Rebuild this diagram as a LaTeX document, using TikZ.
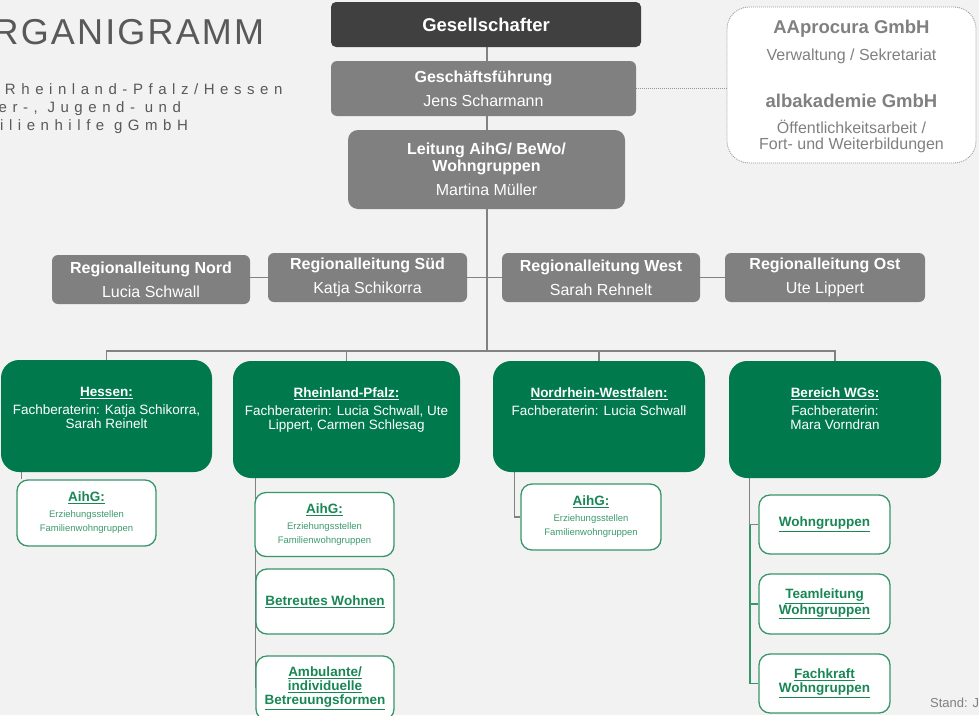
\documentclass[tikz,border=0pt]{standalone}
\usepackage{fontspec}
\setmainfont{Liberation Sans}
\usetikzlibrary{backgrounds}
\definecolor{bgcol}{RGB}{242,242,242}
\definecolor{darkbox}{RGB}{64,64,64}
\definecolor{midgray}{RGB}{128,128,128}
\definecolor{titlegray}{RGB}{89,89,89}
\definecolor{dotgray}{RGB}{150,150,150}
\definecolor{orgGreen}{RGB}{0,122,77}
\definecolor{subGreen}{RGB}{55,150,105}
\definecolor{subText}{RGB}{25,135,85}
\definecolor{subLight}{RGB}{60,155,110}
\definecolor{lineGray}{RGB}{130,130,130}
\newcommand\fs[2]{\fontsize{#1}{#2}\selectfont}
\newcommand\bolduline[1]{\textbf{\underline{#1}}}
\newcommand\smalltxt[1]{{\fontsize{9.5}{14}\selectfont\color{subLight}#1}}
\tikzset{
  lbl/.style={inner sep=0pt, align=center},
  darkstyle/.style={fill=darkbox, rounded corners=5pt, text=white, inner sep=0pt, align=center},
  graystyle/.style={fill=midgray, rounded corners=6pt, text=white, inner sep=0pt, align=center},
  greenstyle/.style={fill=orgGreen, rounded corners=18pt, inner sep=0pt},
  gtext/.style={lbl, anchor=north, text=white, font=\fs{13.5}{14}},
  substyle/.style={fill=white, draw=subGreen, line width=1.3pt, rounded corners=11pt, inner sep=0pt, align=center, text=subText, font=\fs{13.5}{14}},
  conn/.style={draw=lineGray, line width=1.2pt},
  gconn/.style={draw=subGreen, line width=1.3pt},
  dotconn/.style={draw=dotgray, line width=1pt, dash pattern=on 1pt off 1pt}
}
\begin{document}
\begin{tikzpicture}[x=1pt,y=-1pt]
\useasboundingbox (0,0) rectangle (979,715);
% title
\node[lbl, anchor=base west, text=titlegray, font=\fs{36}{36}\addfontfeature{LetterSpace=6}] (title) at (-7.5,44) {RGANIGRAMM};
\node[lbl, anchor=base west, text=titlegray, font=\fs{15}{18}\addfontfeature{LetterSpace=37}] (sub1) at (4.8,94.3) {Rheinland-Pfalz/Hessen};
\node[lbl, anchor=base west, text=titlegray, font=\fs{15}{18}\addfontfeature{LetterSpace=37}] (sub2) at (-1.5,112.5) {er-, Jugend- und};
\node[lbl, anchor=base west, text=titlegray, font=\fs{15}{18}\addfontfeature{LetterSpace=37}] (sub3) at (0,130) {ilienhilfe gGmbH};
% top boxes
\node[darkstyle, minimum width=310pt, minimum height=45pt, font=\fs{18.5}{20}\bfseries] (ges) at (486,24.5) {Gesellschafter};
\node[graystyle, minimum width=305pt, minimum height=55pt, font=\fs{16}{24}] (gf) at (483.5,88.5) {\textbf{Geschäftsführung}\\Jens Scharmann};
\node[graystyle, rounded corners=10pt, minimum width=277pt, minimum height=79pt, font=\fs{16}{17}] (leit) at (486.5,169.5) {\textbf{Leitung AihG/ BeWo/}\\\textbf{Wohngruppen}\\[7pt]Martina Müller};
% AAprocura
\node[fill=white, draw=dotgray, dash pattern=on 1pt off 1pt, line width=0.8pt, rounded corners=22pt, minimum width=249pt, minimum height=156pt, inner sep=0pt] (aap) at (851.5,85) {};
\node[lbl, anchor=north, text=midgray, font=\fs{16}{16}] (aaptxt) at (851.5,20) {{\fontsize{18.5}{16}\selectfont\bfseries AAprocura GmbH}\\[11pt]Verwaltung / Sekretariat\\[29pt]{\fontsize{18.5}{16}\selectfont\bfseries albakademie GmbH}\\[10pt]Öffentlichkeitsarbeit /\\Fort- und Weiterbildungen};
% regional
\node[graystyle, minimum width=198pt, minimum height=49pt, font=\fs{16}{24}] (nord) at (151,279.5) {\textbf{Regionalleitung Nord}\\Lucia Schwall};
\node[graystyle, minimum width=199pt, minimum height=49pt, font=\fs{16}{24}] (sued) at (367.5,277.5) {\textbf{Regionalleitung Süd}\\Katja Schikorra};
\node[graystyle, minimum width=198pt, minimum height=49pt, font=\fs{16}{24}] (west) at (601,277.5) {\textbf{Regionalleitung West}\\Sarah Rehnelt};
\node[graystyle, minimum width=200pt, minimum height=49pt, font=\fs{16}{24}] (ost) at (825,277.5) {\textbf{Regionalleitung Ost}\\Ute Lippert};
% green boxes
\node[greenstyle, minimum width=211pt, minimum height=112pt] (hes) at (106.5,416) {};
\node[gtext] (hestxt) at (106.5,387.5) {\bolduline{Hessen:}\\[4pt]Fachberaterin: Katja Schikorra,\\Sarah Reinelt};
\node[greenstyle, minimum width=227pt, minimum height=117pt] (rlp) at (346.5,419.5) {};
\node[gtext] (rlptxt) at (346.5,387.5) {\bolduline{Rheinland-Pfalz:}\\[4pt]Fachberaterin: Lucia Schwall, Ute\\Lippert, Carmen Schlesag};
\node[greenstyle, minimum width=212pt, minimum height=111pt] (nrw) at (599,416.5) {};
\node[gtext] (nrwtxt) at (599,387.5) {\bolduline{Nordrhein-Westfalen:}\\[4pt]Fachberaterin: Lucia Schwall};
\node[greenstyle, minimum width=212pt, minimum height=117pt] (wgs) at (835,419.5) {};
\node[gtext] (wgstxt) at (835,387.5) {\bolduline{Bereich WGs:}\\[4pt]Fachberaterin:\\Mara Vorndran};
% sub boxes
\node[substyle, minimum width=139pt, minimum height=66pt] (hesA) at (86.5,513) {\bolduline{AihG:}\\[2pt]\smalltxt{Erziehungsstellen}\\\smalltxt{Familienwohngruppen}};
\node[substyle, minimum width=139pt, minimum height=64pt] (rlpA) at (324.5,524.5) {\bolduline{AihG:}\\[2pt]\smalltxt{Erziehungsstellen}\\\smalltxt{Familienwohngruppen}};
\node[substyle, minimum width=138pt, minimum height=65pt] (rlpB) at (325,601.5) {\bolduline{Betreutes Wohnen}};
\node[substyle, minimum width=138pt, minimum height=64pt] (rlpC) at (325,688) {\bolduline{Ambulante/}\\\bolduline{individuelle}\\\bolduline{Betreuungsformen}};
\node[substyle, minimum width=140pt, minimum height=66pt] (nrwA) at (591,517) {\bolduline{AihG:}\\[2pt]\smalltxt{Erziehungsstellen}\\\smalltxt{Familienwohngruppen}};
\node[substyle, minimum width=131pt, minimum height=59pt] (wg1) at (824.5,524.5) {\bolduline{Wohngruppen}};
\node[substyle, minimum width=131pt, minimum height=60pt] (wg2) at (824.5,604) {\bolduline{Teamleitung}\\\bolduline{Wohngruppen}};
\node[substyle, minimum width=131pt, minimum height=59pt] (wg3) at (824.5,683.5) {\bolduline{Fachkraft}\\\bolduline{Wohngruppen}};
% stand
\node[lbl, anchor=base west, text=midgray, font=\fs{13}{13}] (stand) at (930,707) {Stand: J};
% connectors
\begin{scope}[on background layer]
\fill[bgcol] (0,0) rectangle (979,715);
\coordinate (spine) at (487,351);
\draw[conn] (spine |- ges.south) -- (spine);
\draw[conn] (sued.west) -- (sued.west -| nord.east);
\draw[conn] (sued.east) -- (west.west);
\draw[conn] (west.east) -- (ost.west);
\draw[conn] (hes.north) |- (spine) -| (wgs.north);
\draw[conn] (rlp.north) -- (rlp.north |- spine);
\draw[conn] (nrw.north) -- (nrw.north |- spine);
\draw[dotconn] (gf.east) -- (gf.east -| aap.west);
\draw[conn] ([xshift=5pt]hesA.north west) -- ([xshift=5pt]hesA.north west |- hes.south);
\draw[conn] (rlpC.west |- rlp.south) -- (rlpC.west);
\draw[conn] ([xshift=-6pt]nrwA.west |- nrw.south) |- (nrwA.west);
\draw[conn] ([xshift=-8.5pt]wg1.west |- wgs.south) |- (wg1.west);
\draw[gconn] ([xshift=-8.5pt]wg1.west) |- (wg3.west);
\draw[gconn] ([xshift=-8.5pt]wg2.west) -- (wg2.west);
\end{scope}
\end{tikzpicture}
\end{document}
